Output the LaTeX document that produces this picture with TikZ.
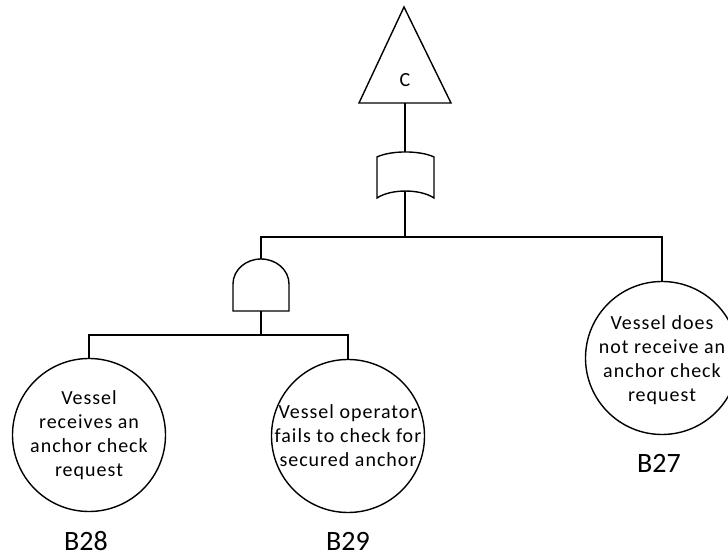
\documentclass[tikz,border=0pt]{standalone}
\usepackage{fontspec}
\setmainfont{Carlito}
\newfontfamily\evfont[LetterSpace=5]{Carlito}
\begin{document}
\begin{tikzpicture}[x=1pt,y=1pt,line width=1.4pt,
    event/.style={draw,circle,minimum size=153pt,inner sep=0pt},
    evtext/.style={align=center,font=\evfont\fontsize{20}{24}\selectfont},
    evlabel/.style={font=\fontsize{28}{34}\selectfont,inner sep=1pt}]
  \useasboundingbox (0,0) rectangle (728,556);
  % transfer triangle
  \draw (404,549) -- (451,453) -- (359,453) -- cycle;
  \coordinate (tribase) at (405,453);
  \node (C) at (405,476) {\fontsize{20}{24}\selectfont C};
  % or gate
  \draw (377,399) .. controls (391,405.7) and (420,405.7) .. (434,399)
    -- (434,358) .. controls (420,367.3) and (391,367.3) .. (377,358) -- cycle;
  \coordinate (orin) at (405,404);
  \coordinate (orout) at (405,365);
  \coordinate (bus) at (405,319);
  % and gate
  \draw (233,245) -- (233,272) arc[start angle=180,end angle=0,x radius=28pt,y radius=25pt]
    -- (289,245) -- cycle;
  \coordinate (andin) at (261,297);
  \coordinate (andout) at (261,245);
  \coordinate (split) at (261,221);
  % basic events
  \node[event] (B28c) at (89,121) {};
  \node[evtext] (B28t) at (89,121) {Vessel\\receives an\\anchor check\\request};
  \node[evlabel] (B28) at (86,15) {B28};
  \node[event] (B29c) at (348,120) {};
  \node[evtext] (B29t) at (348,120) {Vessel operator\\fails to check for\\secured anchor};
  \node[evlabel] (B29) at (348,15) {B29};
  \node[event] (B27c) at (662,198) {};
  \node[evtext] (B27t) at (662,196) {Vessel does\\not receive an\\anchor check\\request};
  \node[evlabel] (B27) at (659,93) {B27};
  % connections
  \draw (tribase) -- (orin);
  \draw[line width=2.8pt] (orout) -- (bus);
  \draw (andin) |- (bus) -| (B27c.north);
  \draw (andout) -- (split);
  \draw (B28c.north) |- (split) -| (B29c.north);
\end{tikzpicture}
\end{document}
